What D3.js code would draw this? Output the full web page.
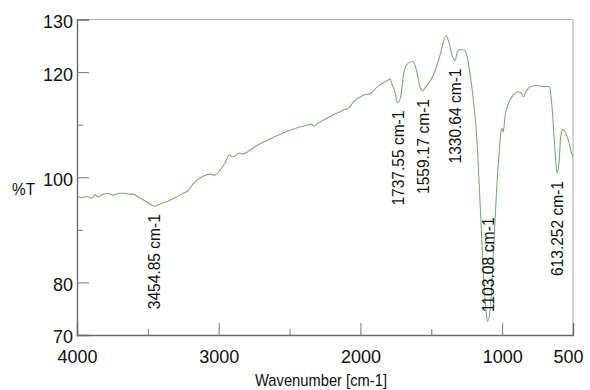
<!DOCTYPE html>
<html>
<head>
<meta charset="utf-8">
<script src="https://cdn.jsdelivr.net/npm/d3@7"></script>
<style>
  html, body { margin: 0; padding: 0; background: #fff; }
  svg { display: block; }
  text { font-family: "Liberation Sans", Arial, Helvetica, sans-serif; fill: #111; }
</style>
</head>
<body>
<svg id="chart" width="590" height="390"></svg>
<script>
// FTIR transmittance spectrum: wavenumber (cm-1) and %T
const wavenumbers = [
  4000, 3967, 3932, 3896, 3873, 3850, 3814, 3779, 3744, 3709, 3673, 3638, 3603, 3567,
  3520, 3485, 3454.85, 3438, 3402, 3356, 3308, 3261, 3215, 3179, 3109, 3061, 3026,
  2991, 2956, 2925, 2901, 2850, 2838, 2732, 2615, 2497, 2379, 2344, 2328, 2297, 2215,
  2109, 2085, 2050, 1980, 1932, 1885, 1827, 1803, 1791, 1777, 1756, 1737.55, 1717,
  1692, 1662, 1629, 1615, 1599, 1580, 1559.17, 1542, 1486, 1438, 1396, 1375, 1349,
  1330.64, 1318, 1297, 1269, 1246, 1227, 1203, 1179, 1156, 1133, 1114, 1103.08, 1085,
  1062, 1038, 1020, 1010, 999, 992, 980, 956, 921, 886, 862, 851, 832, 803, 756, 709,
  681, 667, 650, 634, 620, 613.252, 599, 587, 573, 556, 533, 509, 500
];
const transmittance = [
  96.6, 96.1, 96.4, 96.0, 96.7, 96.25, 96.8, 96.9, 96.6, 96.9, 97.0, 96.8, 96.8, 96.25,
  95.5, 94.9, 94.5, 94.6, 95.0, 95.5, 96.1, 96.8, 97.5, 98.8, 100.2, 100.6, 100.4,
  101.3, 102.7, 104.2, 103.9, 104.6, 104.4, 106.0, 107.6, 108.95, 109.9, 110.1, 109.7, 110.3, 111.5,
  112.9, 113.1, 114.3, 115.6, 115.9, 117.1, 118.15, 118.5, 118.7, 117.7, 116.2, 114.2, 115.2,
  120.1, 121.7, 122.0, 121.3, 119.75, 117.2, 116.4, 117.1, 119.4, 123.2, 126.95, 125.6, 122.9,
  122.2, 123.7, 124.3, 124.2, 122.9, 119.75, 114.7, 107.6, 95.3, 82.3, 74.7, 72.6, 74.7,
  85.5, 98.15, 105.1, 108.3, 109.3, 108.6, 111.5, 114.0, 115.6, 116.25, 115.9, 115.3, 116.25, 117.2, 117.5, 117.2,
  117.3, 117.2, 114.0, 107.7, 102.6, 100.8, 102.6, 107.7, 109.1, 108.6, 107.05, 104.5, 104.0
];

// Annotated band positions (cm-1)
const peakLabels = [3454.85, 1737.55, 1559.17, 1330.64, 1103.08, 613.252];

// Axis ticks
const xTicks = [4000, 3500, 3000, 2500, 2000, 1500, 1000, 500];
const xTickLabels = [4000, 3000, 2000, 1000, 500];
const xMinorTicks = [3500, 2500, 1500];
const yTicks = [130, 120, 110, 100, 90, 80, 70];
const yTickLabels = [130, 120, 100, 80, 70];
const yMinorTicks = [110, 90];

const svg = d3.select("#chart");
const plot = { left: 77, right: 573, top: 19.5, bottom: 335 };

const x = d3.scaleLinear().domain([4000, 500]).range([plot.left, plot.right]);
const y = d3.scaleLinear().domain([70, 130]).range([plot.bottom, plot.top]);

const series = wavenumbers.map((w, i) => ({ w, t: transmittance[i] }));

// Frame: top and right edges in light grey
svg.append("line")
  .attr("x1", plot.left).attr("x2", plot.right)
  .attr("y1", plot.top).attr("y2", plot.top)
  .attr("stroke", "#b0b0b0").attr("stroke-width", 1.2);
svg.append("line")
  .attr("x1", plot.right).attr("x2", plot.right)
  .attr("y1", plot.top).attr("y2", plot.bottom)
  .attr("stroke", "#b8b8b8").attr("stroke-width", 1.2);

// Bottom axis
const xAxis = d3.axisBottom(x)
  .tickValues(xTicks)
  .tickSize(-12)
  .tickPadding(15)
  .tickFormat(d => xTickLabels.includes(d) ? String(d) : "");
const gx = svg.append("g")
  .attr("transform", `translate(0,${plot.bottom})`)
  .call(xAxis);
gx.select(".domain").attr("stroke", "#6a6a6a").attr("stroke-width", 1.4);
gx.selectAll(".tick line")
  .attr("stroke", "#777")
  .attr("y2", d => (d === 4000 || d === 500) ? 0 : (xMinorTicks.includes(d) ? -6 : -12));
gx.selectAll(".tick text")
  .style("font-size", "18px")
  .attr("fill", "#111");
gx.selectAll(".tick text").filter(d => d === 500)
  .attr("text-anchor", "end")
  .attr("x", 10);

// Left axis
const yAxis = d3.axisLeft(y)
  .tickValues(yTicks)
  .tickSize(-12)
  .tickPadding(4)
  .tickFormat(d => yTickLabels.includes(d) ? String(d) : "");
const gy = svg.append("g")
  .attr("transform", `translate(${plot.left},0)`)
  .call(yAxis);
gy.select(".domain").attr("stroke", "#6a6a6a").attr("stroke-width", 1.4);
gy.selectAll(".tick line")
  .attr("stroke", "#777")
  .attr("x2", d => (d === 130 || d === 70) ? 0 : (yMinorTicks.includes(d) ? 6 : 12));
gy.selectAll(".tick text")
  .style("font-size", "18px")
  .attr("dy", "0.44em")
  .attr("fill", "#111");

// Axis titles
svg.append("text")
  .attr("x", 12).attr("y", 195)
  .style("font-size", "17px")
  .attr("textLength", 23)
  .attr("lengthAdjust", "spacingAndGlyphs")
  .text("%T");

svg.append("text")
  .attr("x", 321).attr("y", 386)
  .attr("text-anchor", "middle")
  .style("font-size", "17px")
  .attr("textLength", 132)
  .attr("lengthAdjust", "spacingAndGlyphs")
  .text("Wavenumber [cm-1]");

// Spectrum trace
const line = d3.line()
  .x(d => x(d.w))
  .y(d => y(d.t))
  .curve(d3.curveMonotoneX);

svg.append("path")
  .datum(series)
  .attr("fill", "none")
  .attr("stroke", "#74b074")
  .attr("stroke-width", 1.1)
  .attr("d", line);

// Peak annotations: vertical text just below each band minimum,
// or above it when there is no room inside the plot
const labelLen = 95;
const gap = 8;
peakLabels.forEach(w => {
  const t = transmittance[wavenumbers.indexOf(w)];
  const px = x(w);
  const py = y(t);
  let start = py + gap + labelLen;
  if (start > plot.bottom - 4) start = py - gap - 1;
  svg.append("text")
    .attr("transform", `translate(${px},${start}) rotate(-90)`)
    .attr("dy", "0.36em")
    .style("font-size", "17px")
    .attr("textLength", labelLen)
    .attr("lengthAdjust", "spacingAndGlyphs")
    .text(`${w} cm-1`);
});
</script>
</body>
</html>
